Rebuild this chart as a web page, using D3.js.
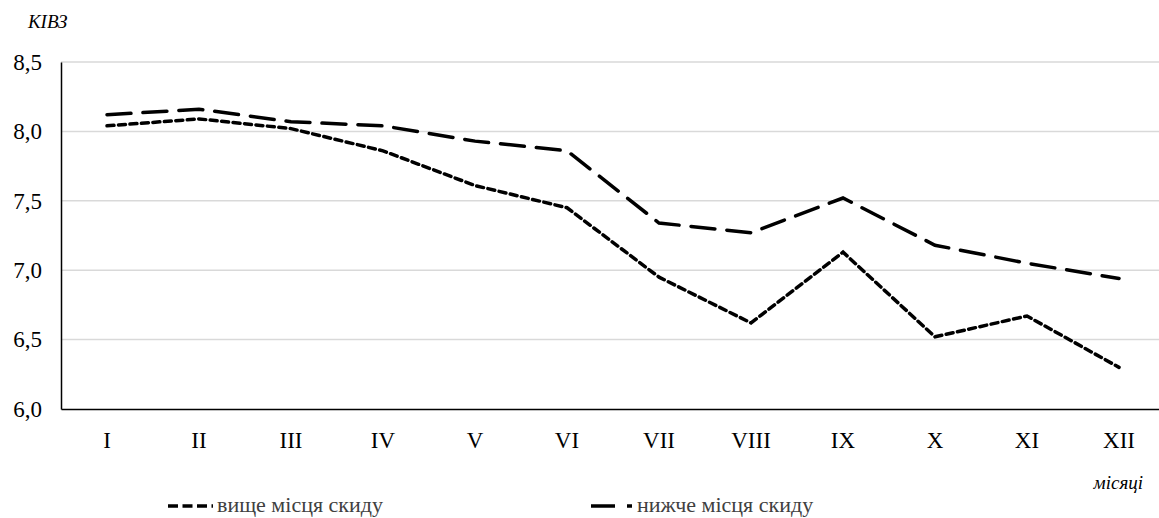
<!DOCTYPE html>
<html>
<head>
<meta charset="utf-8">
<script src="https://cdn.jsdelivr.net/npm/d3@7"></script>
<style>
  body { margin: 0; background: #fff; }
  #chart text { font-family: 'Liberation Serif'; }
</style>
</head>
<body>
<svg id="chart" width="1159" height="518" font-family="Liberation Serif"></svg>
<script>
const months = ['I', 'II', 'III', 'IV', 'V', 'VI', 'VII', 'VIII', 'IX', 'X', 'XI', 'XII'];
const above = [8.04, 8.09, 8.02, 7.86, 7.61, 7.45, 6.95, 6.62, 7.13, 6.52, 6.67, 6.30];
const below = [8.12, 8.16, 8.07, 8.04, 7.93, 7.86, 7.34, 7.27, 7.52, 7.18, 7.05, 6.94];
const yTicks = [6.0, 6.5, 7.0, 7.5, 8.0, 8.5];
const seriesNames = ['вище місця скиду', 'нижче місця скиду'];

const width = 1159, height = 518;
const margin = { left: 61, right: 0, top: 62, bottom: 109 };

const svg = d3.select('#chart');

const x = d3.scaleBand()
  .domain(months)
  .range([margin.left, 1165]);

const y = d3.scaleLinear()
  .domain([6, 8.5])
  .range([height - margin.bottom, margin.top]);

// gridlines
svg.append('g')
  .selectAll('line')
  .data(yTicks.slice(1))
  .enter()
  .append('line')
    .attr('x1', margin.left)
    .attr('x2', width)
    .attr('y1', d => y(d))
    .attr('y2', d => y(d))
    .attr('stroke', '#d9d9d9')
    .attr('stroke-width', 1.5);

// axes
const yAxis = svg.append('g')
  .attr('transform', `translate(${margin.left},0)`)
  .call(d3.axisLeft(y).tickValues(yTicks).tickSize(0).tickPadding(19)
    .tickFormat(d => d3.format('.1f')(d).replace('.', ',')))
  .attr('font-family', null)
  .attr('font-size', 23);
yAxis.select('.domain').attr('stroke', '#000').attr('stroke-width', 1.5);
yAxis.selectAll('text').attr('fill', '#000');

const xAxis = svg.append('g')
  .attr('transform', `translate(0,${y(6)})`)
  .call(d3.axisBottom(x).tickSize(0).tickPadding(23))
  .attr('font-family', null)
  .attr('font-size', 23);
xAxis.select('.domain').attr('stroke', '#000').attr('stroke-width', 1.5);
xAxis.selectAll('text').attr('fill', '#000');

// lines
const line = d3.line()
  .x((d, i) => x(months[i]) + x.bandwidth() / 2)
  .y(d => y(d));

const styles = [
  { data: above, dash: '7,4.5', key: '10,4.5', from: 168, to: 213, label: 217 },
  { data: below, dash: '24,12', key: '24,12', from: 591, to: 632, label: 637 }
];

svg.selectAll('.series')
  .data(styles)
  .enter()
  .append('path')
    .attr('class', 'series')
    .attr('d', d => line(d.data))
    .attr('fill', 'none')
    .attr('stroke', '#000')
    .attr('stroke-width', 3.5)
    .attr('stroke-dasharray', d => d.dash)
    .attr('stroke-linecap', 'round');

// axis titles
svg.append('text')
  .attr('x', 28)
  .attr('y', 28)
  .attr('font-size', 19)
  .attr('font-style', 'italic')
  .text('КІВЗ');

svg.append('text')
  .attr('x', 1143)
  .attr('y', 489)
  .attr('text-anchor', 'end')
  .attr('font-size', 19)
  .attr('font-style', 'italic')
  .text('місяці');

// legend
const legend = svg.selectAll('.legend')
  .data(styles)
  .enter()
  .append('g')
    .attr('class', 'legend')
    .attr('transform', 'translate(0, 512)');

legend.append('line')
  .attr('x1', d => d.from)
  .attr('x2', d => d.to)
  .attr('y1', -6)
  .attr('y2', -6)
  .attr('stroke', '#000')
  .attr('stroke-width', 3.5)
  .attr('stroke-dasharray', d => d.key);

legend.append('text')
  .attr('x', d => d.label)
  .attr('y', 0)
  .attr('font-size', 22)
  .attr('fill', '#404040')
  .text((d, i) => seriesNames[i]);
</script>
</body>
</html>
